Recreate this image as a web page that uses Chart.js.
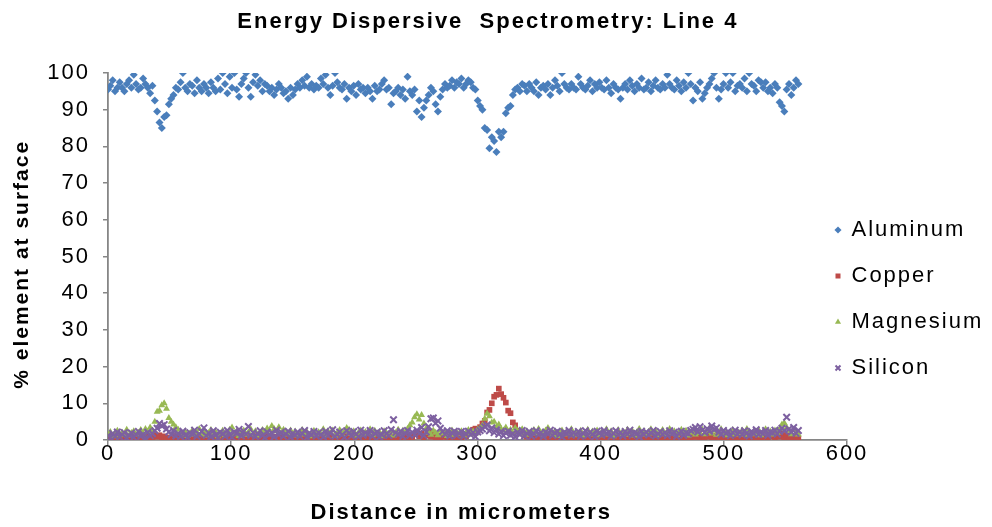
<!DOCTYPE html>
<html>
<head>
<meta charset="utf-8">
<script src="https://cdn.jsdelivr.net/npm/chart.js@4.4.1/dist/chart.umd.min.js"></script>
<style>
html,body{margin:0;padding:0;background:#fff;}
#wrap{width:992px;height:527px;}
</style>
</head>
<body>
<div id="wrap"><canvas id="c" width="992" height="527"></canvas></div>
<script>
// Distance in micrometers (sampling positions along the line scan)
const distance = [
0,1.9,3.8,5.7,7.6,9.5,11.4,13.3,15.2,17.1,
19,20.9,22.8,24.7,26.6,28.5,30.4,32.3,34.2,36.1,
38,39.9,41.8,43.7,45.6,47.5,49.4,51.3,53.2,55.1,
57,58.9,60.8,62.7,64.6,66.5,68.4,70.3,72.2,74.1,
76,77.9,79.8,81.7,83.6,85.5,87.4,89.3,91.2,93.1,
95,96.9,98.8,100.7,102.6,104.5,106.4,108.3,110.2,112.1,
114,115.9,117.8,119.7,121.6,123.5,125.4,127.3,129.2,131.1,
133,134.9,136.8,138.7,140.6,142.5,144.4,146.3,148.2,150.1,
152,153.9,155.8,157.7,159.6,161.5,163.4,165.3,167.2,169.1,
171,172.9,174.8,176.7,178.6,180.5,182.4,184.3,186.2,188.1,
190,191.9,193.8,195.7,197.6,199.5,201.4,203.3,205.2,207.1,
209,210.9,212.8,214.7,216.6,218.5,220.4,222.3,224.2,226.1,
228,229.9,231.8,233.7,235.6,237.5,239.4,241.3,243.2,245.1,
247,248.9,250.8,252.7,254.6,256.5,258.4,260.3,262.2,264.1,
266,267.9,269.8,271.7,273.6,275.5,277.4,279.3,281.2,283.1,
285,286.9,288.8,290.7,292.6,294.5,296.4,298.3,300.2,302.1,
304,305.9,307.8,309.7,311.6,313.5,315.4,317.3,319.2,321.1,
323,324.9,326.8,328.7,330.6,332.5,334.4,336.3,338.2,340.1,
342,343.9,345.8,347.7,349.6,351.5,353.4,355.3,357.2,359.1,
361,362.9,364.8,366.7,368.6,370.5,372.4,374.3,376.2,378.1,
380,381.9,383.8,385.7,387.6,389.5,391.4,393.3,395.2,397.1,
399,400.9,402.8,404.7,406.6,408.5,410.4,412.3,414.2,416.1,
418,419.9,421.8,423.7,425.6,427.5,429.4,431.3,433.2,435.1,
437,438.9,440.8,442.7,444.6,446.5,448.4,450.3,452.2,454.1,
456,457.9,459.8,461.7,463.6,465.5,467.4,469.3,471.2,473.1,
475,476.9,478.8,480.7,482.6,484.5,486.4,488.3,490.2,492.1,
494,495.9,497.8,499.7,501.6,503.5,505.4,507.3,509.2,511.1,
513,514.9,516.8,518.7,520.6,522.5,524.4,526.3,528.2,530.1,
532,533.9,535.8,537.7,539.6,541.5,543.4,545.3,547.2,549.1,
551,552.9,554.8,556.7,558.6,560.5
];

const aluminum = [
95.5,96.5,98,95,96,97.5,96,95,97,98,
96,99.5,97,95.5,96,98.5,97,96,94.5,96.5,
92.5,89.5,86.5,85,88,88.5,91.5,93,94,96,
95.5,97.5,100,96,95,97,96.5,94.5,98,96,
95,97,96,94.5,97.5,96,95,98.5,95.5,100,
97,94.5,99,96,100,95.5,93.5,97,98.5,100,
96,93.5,97.5,99.5,96.5,98,95,97,96.5,95,
96,94,95.5,97,96,94.5,95,93,96,94,
95.5,97,96,98,96.5,99,96,97,95.5,96.5,
96,98.5,97,99.5,96,94,96.5,100,97.5,96,
95.5,97,93,96,95,96.5,94,97,95.5,96,
94.5,96,95,93,96.5,95,95.5,97,98,95.5,
96,91.5,94.5,95,96,94,95.5,93,99,95,
94,95.5,89.5,92.5,88,90.5,92.5,94,96,95,
91.5,89.5,93.5,95.5,97,96,96.5,98,96,97.5,
97,98.5,96,97,98,97.5,96,95.5,92.5,91,
90,85,84.5,79.5,82.5,81.5,78.5,84,82.5,84,
89,90.5,91,94,95.5,96,95,97,96.5,95,
97,96,95,97.5,94,96,96.5,95.5,97,94,
96,98,96.5,95,100,97,96,95.5,97,96,
95.5,99,97,96,95.5,96.5,98,95,97,96,
97.5,96,95.5,98,96,94.5,97,96,95.5,93,
96,97,95.5,98,96.5,95,97,96,98.5,95.5,
96,97.5,95,96.5,98,96,95.5,97,96,99.5,
97,96,95.5,98,96.5,95,97.5,96,100,97,
92.5,96,95,97.5,93,94.5,96,97,98.5,100,
96,93,95.5,97,100,96,97.5,100,95,96.5,
97,96,98.5,95,100,97,96.5,95,98,97.5,
96,97.5,95,96,94.5,97,96,92,91,89.5,
95.5,97,94,96,98,97
];

const copper = [
0.8,0.3,1.2,0.5,0.9,0.2,1.4,0.6,0.4,1.0,
0.7,0.2,1.1,0.5,0.3,0.9,0.6,1.3,0.4,0.8,
1.6,0.9,1.3,0.5,1.0,0.4,0.7,0.3,1.1,0.6,
0.5,0.9,0.3,1.2,0.6,0.2,0.8,0.5,1.0,0.4,
0.7,0.3,1.1,0.6,0.2,0.9,0.5,1.2,0.4,0.7,
0.3,1.0,0.6,0.2,0.8,0.5,1.3,0.4,0.7,0.3,
0.9,0.5,0.2,1.1,0.6,0.4,0.8,0.3,1.0,0.5,
0.7,0.2,0.9,0.6,0.4,1.2,0.3,0.8,0.5,0.2,
1.0,0.6,0.3,0.9,0.5,1.1,0.4,0.7,0.2,0.8,
0.5,1.3,0.6,0.3,0.9,0.4,1.0,0.7,0.2,0.6,
0.9,0.4,1.1,0.5,0.3,0.8,0.6,1.2,0.4,0.7,
0.3,1.0,0.5,0.8,0.2,0.9,0.6,1.4,0.5,0.7,
1.1,0.4,0.8,0.3,1.2,0.6,0.9,1.5,0.7,1.3,
0.8,1.6,2.2,1.0,1.8,0.6,1.2,2.4,0.9,1.5,
0.7,1.1,0.5,0.9,1.4,0.6,1.0,0.8,1.3,0.5,
1.2,0.7,1.6,1.0,1.9,2.3,2.8,3.1,2.6,3.5,
4.5,5.2,7.5,8.2,10.0,11.8,12.3,14.0,12.5,11.5,
10.2,8.0,7.3,4.8,4.0,2.5,2.0,1.8,1.2,0.9,
1.4,0.8,0.5,1.0,0.6,0.3,0.9,0.4,1.1,0.6,
0.3,0.8,1.3,0.5,0.9,0.4,0.7,1.5,0.6,0.3,
0.9,0.5,1.2,0.7,0.3,1.0,0.6,0.4,0.8,1.1,
0.5,0.2,0.9,0.6,1.2,0.4,0.7,0.3,1.0,0.5,
0.8,0.4,1.1,0.6,0.3,0.9,0.5,1.2,0.4,0.7,
0.3,1.0,0.6,0.8,0.2,0.9,0.5,1.3,0.6,0.4,
0.9,0.5,0.2,1.1,0.7,0.4,0.8,0.3,1.0,0.6,
1.4,0.8,1.9,0.6,1.2,0.5,0.9,1.6,0.4,0.7,
1.1,0.5,0.8,0.3,1.0,0.6,1.3,0.4,0.7,0.2,
0.9,0.5,1.2,0.6,0.3,1.0,0.7,0.4,1.1,0.5,
0.8,1.4,0.6,1.0,1.7,0.5,1.2,0.9,1.8,0.7,
1.3,0.6,1.0,0.4,0.8,0.5
];

const magnesium = [
1.5,2.2,1.0,1.8,2.5,1.3,2.0,1.6,2.8,1.2,
1.9,2.4,1.4,2.0,2.7,1.7,3.0,2.2,3.4,2.6,
5.0,7.7,8.0,9.5,10.0,8.5,6.0,5.0,4.2,3.5,
2.8,2.0,1.5,2.3,1.1,1.8,2.6,1.4,2.1,3.0,
1.6,2.4,1.2,1.9,2.7,1.5,2.2,1.0,1.8,2.5,
1.3,2.0,2.8,3.4,1.6,2.3,1.1,1.9,2.6,1.4,
2.1,2.9,1.5,2.4,1.2,1.8,2.7,2.2,3.1,2.5,
3.8,3.0,2.4,3.5,1.9,2.8,2.2,1.5,2.6,1.8,
2.3,1.2,2.0,2.7,1.5,2.2,1.0,1.8,2.5,1.4,
2.1,1.6,2.9,1.3,2.4,1.9,2.6,1.1,2.0,2.7,
1.5,2.3,3.3,2.8,1.7,2.4,1.2,2.0,2.6,1.4,
2.2,1.8,2.9,1.3,2.5,1.6,2.1,1.0,2.4,1.9,
1.5,2.3,1.2,2.0,2.8,1.7,2.5,2.2,3.0,4.0,
4.8,6.2,7.0,5.6,6.8,4.5,3.2,2.0,1.4,2.6,
2.0,1.3,2.5,1.8,2.2,1.1,1.9,2.6,1.4,2.1,
1.7,2.4,1.2,2.0,2.7,1.5,2.3,1.8,2.9,3.2,
4.0,5.8,7.2,6.5,4.8,5.0,3.6,4.2,3.0,2.6,
3.4,2.2,2.8,1.9,3.3,2.5,1.6,2.9,2.0,2.4,
1.4,2.3,2.7,1.7,3.0,2.0,1.3,2.6,3.3,2.1,
1.6,2.4,1.1,1.9,2.6,1.5,2.2,1.8,2.9,1.3,
2.1,1.7,2.5,1.2,2.0,2.8,1.5,2.3,1.9,2.6,
1.3,2.2,1.8,2.9,1.5,2.4,1.0,2.0,2.7,1.6,
2.3,1.4,2.8,1.9,2.5,1.2,2.1,3.0,1.7,2.4,
1.5,2.2,2.9,1.8,2.5,1.3,2.0,2.7,1.6,2.3,
3.0,1.9,2.4,1.4,2.1,2.8,1.7,2.5,1.2,2.0,
2.6,1.5,2.3,1.9,2.8,1.6,2.2,3.2,1.8,2.5,
1.4,2.1,2.9,1.7,2.4,1.3,2.0,2.7,1.5,2.3,
1.9,2.6,1.4,3.0,2.1,1.6,2.4,1.8,2.7,1.3,
2.2,2.9,1.7,2.3,1.5,2.6,2.0,3.0,4.2,4.6,
3.4,2.5,1.6,2.8,2.0,1.5
];

const silicon = [
1.2,0.6,1.8,1.0,2.2,0.8,1.5,2.0,0.5,1.3,
1.9,0.7,1.4,2.3,1.0,1.6,0.4,2.1,1.2,1.7,
2.5,3.2,4.5,3.8,4.2,3.0,2.2,1.5,2.6,1.1,
1.8,0.9,2.4,1.3,0.6,2.0,1.5,2.7,1.0,1.6,
2.3,3.3,1.2,1.9,0.8,2.5,1.4,0.5,2.1,1.7,
1.0,2.6,1.5,0.7,2.2,1.8,2.9,1.1,2.4,1.6,
3.7,1.3,2.0,0.9,1.7,2.5,1.2,0.6,2.2,1.5,
1.9,0.8,2.7,1.4,2.1,1.0,1.6,2.4,0.7,1.8,
1.3,2.2,1.0,1.7,2.6,0.6,1.9,1.4,2.3,1.1,
2.0,1.5,0.8,2.4,1.2,1.8,2.8,1.0,1.6,2.2,
1.4,0.7,2.5,1.9,1.1,2.3,1.6,0.9,2.7,1.3,
2.0,1.5,2.6,1.0,1.8,2.2,0.8,1.4,2.5,1.7,
1.2,2.8,5.5,2.0,1.5,2.4,1.0,1.8,2.6,1.3,
2.1,1.4,2.7,1.8,3.4,1.2,2.2,3.6,5.8,6.0,
4.6,5.2,3.2,2.3,1.6,2.5,1.1,1.9,2.4,1.3,
1.8,2.3,1.0,1.7,2.4,1.4,2.0,0.9,2.2,2.6,
3.0,3.6,4.1,2.5,3.3,2.0,2.8,1.6,2.3,1.2,
1.9,2.4,1.3,1.7,0.8,2.1,1.5,2.6,1.1,1.8,
2.3,1.0,1.7,2.5,1.4,2.0,0.9,2.2,1.6,2.7,
1.2,1.9,2.4,1.5,0.8,2.1,1.7,2.6,1.3,2.0,
1.5,2.3,1.0,1.8,2.5,1.2,2.1,1.6,0.9,2.4,
1.9,1.3,2.6,1.7,2.2,1.0,1.8,2.5,1.4,2.0,
1.1,2.3,1.6,2.7,1.3,2.0,1.8,0.8,2.4,1.5,
2.2,1.4,1.9,2.6,1.1,1.7,2.3,1.5,2.0,1.2,
2.5,1.6,2.1,1.0,1.8,2.4,1.3,2.0,1.7,2.6,
2.9,3.4,2.2,3.6,2.7,2.0,3.1,2.4,3.8,2.8,
3.3,2.1,1.5,2.6,1.8,2.3,1.2,2.0,2.7,1.6,
2.2,1.4,2.5,1.9,1.1,2.3,1.7,2.8,1.5,2.1,
1.8,2.6,1.3,2.2,1.9,2.7,1.6,2.4,3.2,2.5,
6.2,3.0,2.2,3.4,1.8,2.6
];

const seriesNames = ['Aluminum', 'Copper', 'Magnesium', 'Silicon'];
const xTicks = [0, 100, 200, 300, 400, 500, 600];
const yTicks = [0, 10, 20, 30, 40, 50, 60, 70, 80, 90, 100];

function pts(ys) { return distance.map((x, i) => ({ x: x, y: ys[i] })); }

const FONT = '"Liberation Sans", Arial, sans-serif';
const AXIS = '#868686';

const textSpacing = {
  id: 'textSpacing',
  beforeUpdate(chart) {
    chart.ctx.letterSpacing = '2px';
    const lg = chart.legend;
    if (lg && !lg._fixedWidth) {
      const origFit = lg.fit.bind(lg);
      lg.fit = function () { origFit(); this.width = 145; };
      lg._fixedWidth = true;
    }
  },
  beforeDraw(chart) { chart.ctx.letterSpacing = '2px'; }
};

const legendShift = {
  id: 'legendShift',
  afterLayout(chart) {
    const lg = chart.legend;
    if (!lg) return;
    const dx = 838 - 2.5 - 24 - lg.left;
    lg.left += dx;
    lg.top += 195; lg.bottom += 195;
  }
};

new Chart(document.getElementById('c'), {
  type: 'scatter',
  data: {
    datasets: [
      { label: seriesNames[0], data: pts(aluminum), pointStyle: 'rectRot', pointRadius: 4, pointHoverRadius: 4,
        backgroundColor: '#4A7EBB', borderColor: '#4A7EBB', borderWidth: 0, order: 4 },
      { label: seriesNames[1], data: pts(copper), pointStyle: 'rect', pointRadius: 4, pointHoverRadius: 4,
        backgroundColor: '#BE4B48', borderColor: '#BE4B48', borderWidth: 0, order: 3 },
      { label: seriesNames[2], data: pts(magnesium), pointStyle: 'triangle', pointRadius: 4, pointHoverRadius: 4,
        backgroundColor: '#98B954', borderColor: '#98B954', borderWidth: 0, order: 2 },
      { label: seriesNames[3], data: pts(silicon), pointStyle: 'crossRot', pointRadius: 4.6, pointHoverRadius: 4.6,
        backgroundColor: '#7D60A0', borderColor: '#7D60A0', borderWidth: 2, order: 1 }
    ]
  },
  options: {
    responsive: false,
    animation: false,
    events: [],
    layout: { padding: 0 },
    plugins: {
      title: {
        display: true,
        text: 'Energy Dispersive  Spectrometry: Line 4\u00a0\u00a0',
        color: '#000',
        font: { family: FONT, size: 22, weight: 'bold', lineHeight: 1.2 },
        padding: { top: 9, bottom: 37.6 }
      },
      legend: {
        display: true,
        position: 'right',
        align: 'start',
        labels: {
          usePointStyle: true,
          boxWidth: 5,
          boxHeight: 5,
          padding: 24,
          color: '#000',
          font: { family: FONT, size: 22, lineHeight: 1.2 },
          sort: (a, b) => a.datasetIndex - b.datasetIndex
        }
      },
      tooltip: { enabled: false }
    },
    scales: {
      x: {
        type: 'linear',
        min: 0, max: 600,
        afterBuildTicks: s => { s.ticks = xTicks.map(v => ({ value: v })); },
        afterFit: s => { s.height = 87; },
        ticks: { color: '#000', font: { family: FONT, size: 22, lineHeight: 1 }, padding: -2, maxRotation: 0 },
        grid: { display: true, drawOnChartArea: false, drawTicks: true, tickLength: 5, color: AXIS, lineWidth: 1.5 },
        border: { display: true, color: AXIS, width: 1.8 },
        title: { display: true, text: 'Distance in micrometers\u00a0\u00a0\u00a0\u00a0', color: '#000',
          font: { family: FONT, size: 22, weight: 'bold', lineHeight: 1.2 }, padding: { top: 0, bottom: 1 } }
      },
      y: {
        type: 'linear',
        min: 0, max: 100,
        afterBuildTicks: s => { s.ticks = yTicks.map(v => ({ value: v })); },
        afterFit: s => { s.width = 108; },
        ticks: { color: '#000', font: { family: FONT, size: 22, lineHeight: 1 }, padding: 13 },
        grid: { display: true, drawOnChartArea: false, drawTicks: true, tickLength: 5, color: AXIS, lineWidth: 1.5 },
        border: { display: true, color: AXIS, width: 1.8 },
        title: { display: true, text: '% element at surface\u00a0\u00a0', color: '#000',
          font: { family: FONT, size: 21, weight: 'bold', lineHeight: 1.2 }, padding: { top: 9.5, bottom: 0 } }
      }
    }
  },
  plugins: [textSpacing, legendShift]
});
</script>
</body>
</html>
